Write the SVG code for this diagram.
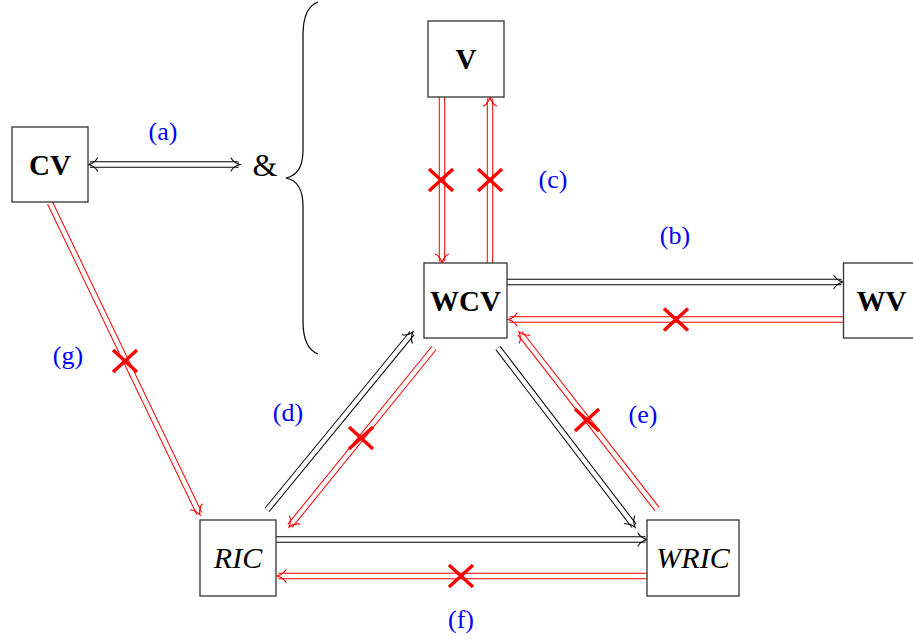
<svg xmlns="http://www.w3.org/2000/svg" xmlns:xlink="http://www.w3.org/1999/xlink" width="913" height="641" viewBox="0 0 913 641">
<style>
.box{fill:#fff;stroke:#333;stroke-width:1.3}
.bt{font-family:"Liberation Serif","DejaVu Serif",serif;font-size:29px;font-weight:bold;text-anchor:middle;fill:#000}
.it{font-family:"Liberation Serif","DejaVu Serif",serif;font-size:30px;font-style:italic;text-anchor:middle;fill:#000}
.lb{font-family:"Liberation Serif","DejaVu Serif",serif;font-size:26px;text-anchor:middle;fill:#0000ff}
.ok{fill:none;stroke:#000;stroke-width:6.4}
.no{fill:none;stroke:#ff0000;stroke-width:6.4}
.gap{fill:none;stroke:#fff;stroke-width:4.4}
.hk{fill:none;stroke:#000;stroke-width:1.1;stroke-linecap:round}
.hr{fill:none;stroke:#ff0000;stroke-width:1.1;stroke-linecap:round}
.x{fill:none;stroke:#ff0000;stroke-width:3.4}
</style>
<defs>
<path id="hd" d="M-9,-6.5 C-7,-3 -3,-0.8 0,0 C-3,0.8 -7,3 -9,6.5"/>
<path id="xm" d="M-12,-11 L12,11 M-12,11 L12,-11"/>
<path id="ca" d="M90,164.5 L238.5,164.5"/>
<path id="cvd" d="M442,97 L442,261.5"/>
<path id="cvu" d="M490,263 L490,98.5"/>
<path id="cb1" d="M507,282 L841.5,282"/>
<path id="cb2" d="M843,319.5 L509.5,319.5"/>
<path id="cd1" d="M267,510 L412.05,333.16"/>
<path id="cd2" d="M434,348 L289.94,525.83"/>
<path id="ce1" d="M498,348 L634.09,525.81"/>
<path id="ce2" d="M657,509 L519.92,333.18"/>
<path id="cf1" d="M276,539.5 L645.5,539.5"/>
<path id="cf2" d="M647,576 L278.5,576"/>
<path id="cg" d="M50,203 L199.35,513.65"/>
</defs>
<g id="connectors">
<use href="#ca" class="ok"/><use href="#ca" class="gap"/>
<use href="#hd" class="hk" transform="translate(240,164.5)"/>
<use href="#hd" class="hk" transform="translate(88.5,164.5) rotate(180)"/>
<use href="#cvd" class="no"/><use href="#cvd" class="gap"/>
<use href="#hd" class="hr" transform="translate(442,263) rotate(90)"/>
<use href="#cvu" class="no"/><use href="#cvu" class="gap"/>
<use href="#hd" class="hr" transform="translate(490,97) rotate(-90)"/>
<use href="#cb1" class="ok"/><use href="#cb1" class="gap"/>
<use href="#hd" class="hk" transform="translate(843,282)"/>
<use href="#cb2" class="no"/><use href="#cb2" class="gap"/>
<use href="#hd" class="hr" transform="translate(508,319.5) rotate(180)"/>
<use href="#cd1" class="ok"/><use href="#cd1" class="gap"/>
<use href="#hd" class="hk" transform="translate(413,332) rotate(-50.6)"/>
<use href="#cd2" class="no"/><use href="#cd2" class="gap"/>
<use href="#hd" class="hr" transform="translate(289,527) rotate(129)"/>
<use href="#ce1" class="ok"/><use href="#ce1" class="gap"/>
<use href="#hd" class="hk" transform="translate(635,527) rotate(52.6)"/>
<use href="#ce2" class="no"/><use href="#ce2" class="gap"/>
<use href="#hd" class="hr" transform="translate(519,332) rotate(-127.9)"/>
<use href="#cf1" class="ok"/><use href="#cf1" class="gap"/>
<use href="#hd" class="hk" transform="translate(647,539.5)"/>
<use href="#cf2" class="no"/><use href="#cf2" class="gap"/>
<use href="#hd" class="hr" transform="translate(277,576) rotate(180)"/>
<use href="#cg" class="no"/><use href="#cg" class="gap"/>
<use href="#hd" class="hr" transform="translate(200,515) rotate(64.3)"/>
<use href="#xm" class="x" transform="translate(441,180)"/>
<use href="#xm" class="x" transform="translate(490,180)"/>
<use href="#xm" class="x" transform="translate(676,319.5)"/>
<use href="#xm" class="x" transform="translate(361,438)"/>
<use href="#xm" class="x" transform="translate(587,420)"/>
<use href="#xm" class="x" transform="translate(461,576)"/>
<use href="#xm" class="x" transform="translate(125,361)"/>
</g>
<g id="brace">
<path d="M318,2 C307,6 303,18 303,35 L303,150 C303,168 296,176 286,178 C296,180 303,188 303,206 L303,321 C303,338 307,350 318,354" fill="none" stroke="#000" stroke-width="1.2"/>
<text x="265" y="176" font-family="Liberation Serif, DejaVu Serif, serif" font-size="32" text-anchor="middle">&amp;</text>
</g>
<g id="labels">
<text class="lb" x="163" y="140">(a)</text>
<text class="lb" x="675" y="244">(b)</text>
<text class="lb" x="553" y="188">(c)</text>
<text class="lb" x="288" y="421">(d)</text>
<text class="lb" x="643" y="423">(e)</text>
<text class="lb" x="461" y="628">(f)</text>
<text class="lb" x="68" y="364">(g)</text>
</g>
<g id="CV"><rect class="box" x="12" y="127" width="76" height="75"/><text class="bt" x="50" y="175">CV</text></g>
<g id="V"><rect class="box" x="428" y="21" width="76" height="76"/><text class="bt" x="466" y="69">V</text></g>
<g id="WCV"><rect class="box" x="424" y="263" width="83" height="75"/><text class="bt" x="465.5" y="311">WCV</text></g>
<g id="WV"><rect class="box" x="843.5" y="263" width="76" height="75"/><text class="bt" x="881.5" y="311">WV</text></g>
<g id="RIC"><rect class="box" x="200" y="520" width="76" height="76"/><text class="it" x="238" y="568">RIC</text></g>
<g id="WRIC"><rect class="box" x="647" y="520" width="92" height="76"/><text class="it" x="693" y="568">WRIC</text></g>
</svg>
